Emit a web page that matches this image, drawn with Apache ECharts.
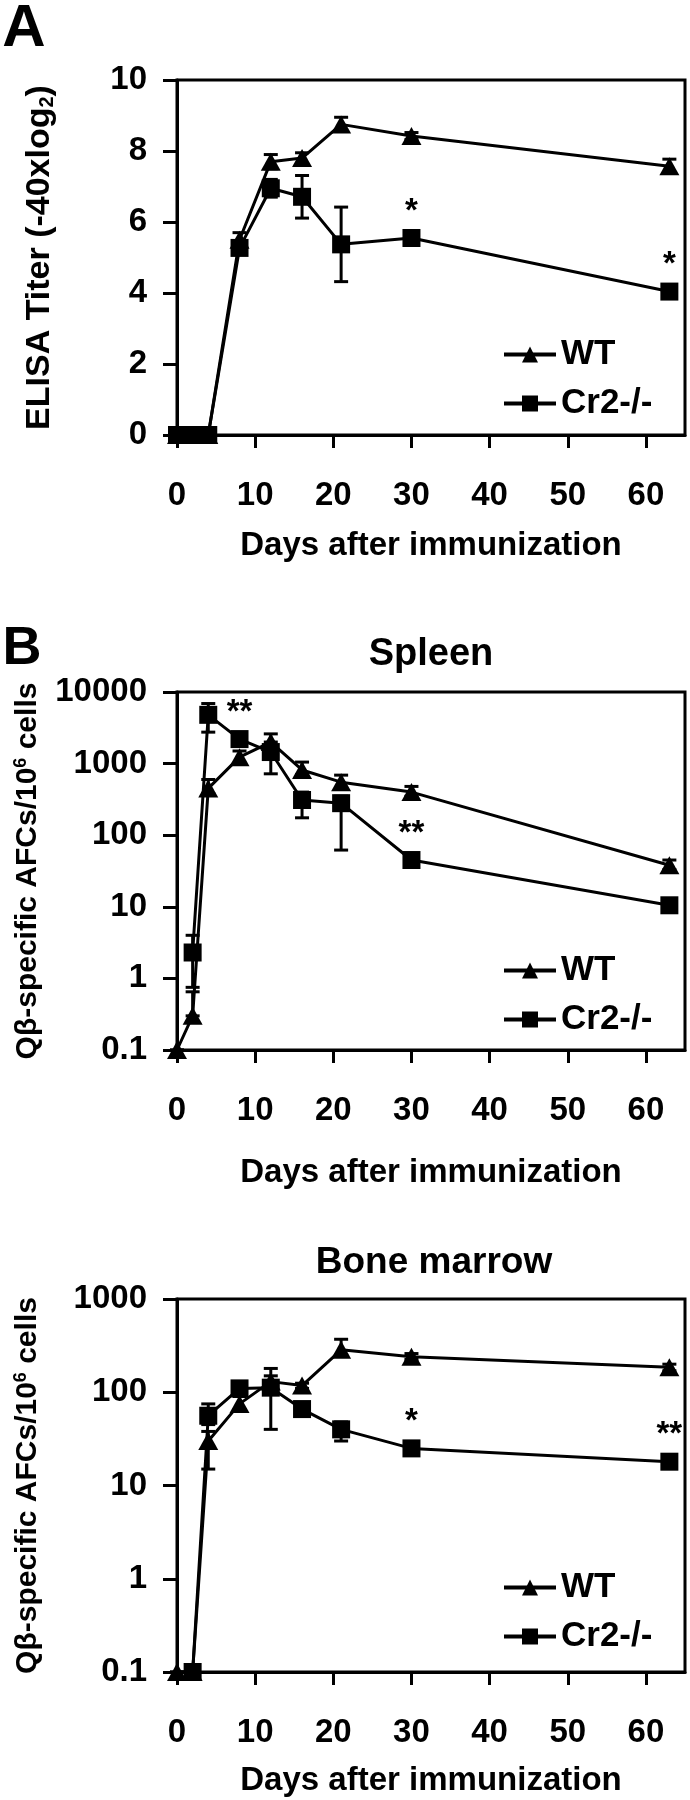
<!DOCTYPE html>
<html><head><meta charset="utf-8">
<script src="https://cdn.jsdelivr.net/npm/echarts@6/dist/echarts.min.js"></script>
<style>html,body{margin:0;padding:0;background:#fff}#c{width:690px;height:1800px}</style>
</head><body><div id="c"></div>
<script>
// ---------- data ----------
const X_TICKS = [0, 10, 20, 30, 40, 50, 60];

// Panel A: ELISA titer
const A_DAYS = [0, 2, 4, 8, 12, 16, 21, 30, 63];
const A_WT = [0, 0, 0, 5.5, 7.7, 7.8, 8.75, 8.42, 7.57];
const A_WT_ERR = [0, 0, 0, 0.2, 0.2, 0.15, 0.2, 0.1, 0.2];
const A_CR2 = [0, 0, 0, 5.27, 6.95, 6.71, 5.37, 5.55, 4.04];
const A_CR2_ERR = [0, 0, 0, 0.15, 0.25, 0.6, 1.05, 0.1, 0.1];
const A_STARS = [[30, 5.55, '*'], [63, 4.04, '*']];

// Panel B: Spleen
const SP_WT_DAYS = [0, 2, 4, 8, 12, 16, 21, 30, 63];
const SP_WT = [0.1, 0.3, 450, 1230, 2000, 815, 550, 400, 38];
const SP_WT_LO = [0.1, 0.3, 380, 1000, 1700, 700, 450, 350, 33];
const SP_WT_HI = [0.1, 0.65, 600, 1500, 2600, 1050, 690, 480, 45];
const SP_CR2_DAYS = [2, 4, 8, 12, 16, 21, 30, 63];
const SP_CR2 = [2.3, 4800, 2200, 1450, 310, 280, 45, 10.5];
const SP_CR2_LO = [0.75, 2750, 1900, 720, 175, 62, 40, 9.5];
const SP_CR2_HI = [4, 6900, 2600, 2000, 400, 350, 50, 11.5];
const SP_STARS = [[8, 2200, '**'], [30, 45, '**']];

// Panel B: Bone marrow
const BM_WT_DAYS = [0, 2, 4, 8, 12, 16, 21, 30, 63];
const BM_WT = [0.1, 0.1, 30, 75, 130, 118, 285, 240, 185];
const BM_WT_LO = [0.1, 0.1, 15, 65, 110, 110, 250, 225, 170];
const BM_WT_HI = [0.1, 0.1, 38, 90, 150, 125, 370, 260, 200];
const BM_CR2_DAYS = [2, 4, 8, 12, 16, 21, 30, 63];
const BM_CR2 = [0.1, 56, 110, 112, 66, 40, 25, 18];
const BM_CR2_LO = [0.1, 45, 95, 40, 60, 30, 22, 17];
const BM_CR2_HI = [0.1, 75, 125, 180, 72, 48, 28, 19];
const BM_STARS = [[30, 25, '*'], [63, 18, '**']];

// ---------- chart ----------
const FF = '"Liberation Sans", Arial, Helvetica, sans-serif';
const BLACK = '#000';
const chart = echarts.init(document.getElementById('c'), null, {renderer: 'canvas'});

const zip = (xs, ys) => xs.map((x, i) => [x, ys[i]]);

const grids = [
  {left: 177, top: 80, width: 508, height: 355},
  {left: 177, top: 692, width: 508, height: 358},
  {left: 177, top: 1299, width: 508, height: 373}
].map(g => Object.assign(g, {show: true, borderColor: BLACK, borderWidth: 3, backgroundColor: 'transparent', containLabel: false}));

const txt = (size) => ({fontFamily: FF, fontWeight: 'bold', fontSize: size, color: BLACK});

function xAxis(gi, nameGap, margin) {
  return {
    type: 'value', gridIndex: gi, min: 0, max: 65,
    name: 'Days after immunization', nameLocation: 'middle', nameGap: nameGap,
    nameTextStyle: txt(33),
    axisLine: {show: true, onZero: false, lineStyle: {color: BLACK, width: 3}},
    axisTick: {show: true, inside: false, length: 13, lineStyle: {color: BLACK, width: 3}, customValues: X_TICKS},
    axisLabel: Object.assign({customValues: X_TICKS, margin: margin}, txt(33)),
    splitLine: {show: false}
  };
}

function yCommon(gi) {
  return {
    gridIndex: gi,
    nameLocation: 'middle', nameRotate: 90,
    axisLine: {show: true, onZero: false, lineStyle: {color: BLACK, width: 3}},
    axisTick: {show: true, inside: false, length: 14, lineStyle: {color: BLACK, width: 3}},
    splitLine: {show: false},
    minorTick: {show: false}
  };
}

const logFmt = v => (v < 1 ? String(+v.toFixed(1)) : String(Math.round(v)));

const yAxes = [
  Object.assign(yCommon(0), {
    type: 'value', min: 0, max: 10, interval: 2,
    name: 'ELISA Titer (-40xlog{s|2})', nameGap: 120,
    nameTextStyle: Object.assign(txt(34), {rich: {s: {fontFamily: FF, fontWeight: 'bold', fontSize: 20, color: BLACK, verticalAlign: 'bottom', padding: [14, 0, 0, 0]}}}),
    axisLabel: Object.assign({margin: 30}, txt(33))
  }),
  Object.assign(yCommon(1), {
    type: 'log', logBase: 10, min: 0.1, max: 10000,
    name: 'Qβ-specific AFCs/10{p|6} cells', nameGap: 133,
    nameTextStyle: Object.assign(txt(30), {rich: {p: {fontFamily: FF, fontWeight: 'bold', fontSize: 18, color: BLACK, verticalAlign: 'top', padding: [0, 0, 14, 0]}}}),
    axisLabel: Object.assign({margin: 30, formatter: logFmt}, txt(33))
  }),
  Object.assign(yCommon(2), {
    type: 'log', logBase: 10, min: 0.1, max: 1000,
    name: 'Qβ-specific AFCs/10{p|6} cells', nameGap: 133,
    nameTextStyle: Object.assign(txt(30), {rich: {p: {fontFamily: FF, fontWeight: 'bold', fontSize: 18, color: BLACK, verticalAlign: 'top', padding: [0, 0, 14, 0]}}}),
    axisLabel: Object.assign({margin: 30, formatter: logFmt}, txt(33))
  })
];

const xAxes = [xAxis(0, 94, 44), xAxis(1, 106, 44), xAxis(2, 92, 44)];

function lineSeries(name, gi, days, vals) {
  const tri = name === 'WT';
  return {
    type: 'line', name: name, xAxisIndex: gi, yAxisIndex: gi,
    data: zip(days, vals),
    symbol: tri ? 'triangle' : 'rect',
    symbolSize: tri ? [20, 18] : [18, 18],
    showSymbol: true, clip: false, animation: false,
    lineStyle: {color: BLACK, width: 3},
    itemStyle: {color: BLACK, borderWidth: 0},
    z: tri ? 3 : 4
  };
}

function errSeries(gi, days, lo, hi) {
  return {
    type: 'custom', name: 'err', xAxisIndex: gi, yAxisIndex: gi, animation: false, clip: false,
    data: days.map((d, i) => [d, lo[i], hi[i]]),
    encode: {x: 0, y: [1, 2]},
    renderItem: function (params, api) {
      const p1 = api.coord([api.value(0), api.value(1)]);
      const p2 = api.coord([api.value(0), api.value(2)]);
      const w = 7;
      const st = {stroke: BLACK, lineWidth: 3};
      return {type: 'group', children: [
        {type: 'line', shape: {x1: p1[0], y1: p1[1], x2: p2[0], y2: p2[1]}, style: st},
        {type: 'line', shape: {x1: p1[0] - w, y1: p1[1], x2: p1[0] + w, y2: p1[1]}, style: st},
        {type: 'line', shape: {x1: p2[0] - w, y1: p2[1], x2: p2[0] + w, y2: p2[1]}, style: st}
      ]};
    },
    z: 2
  };
}

function symErr(vals, errs, sign) { return vals.map((v, i) => v + sign * errs[i]); }

function starSeries(gi, stars) {
  return {
    type: 'custom', name: 'stars', xAxisIndex: gi, yAxisIndex: gi, animation: false, clip: false,
    data: stars,
    encode: {x: 0, y: 1},
    renderItem: function (params, api) {
      const p = api.coord([api.value(0), api.value(1)]);
      return {type: 'text', x: p[0], y: p[1] - 10, style: {
        text: stars[params.dataIndex][2], fill: BLACK,
        font: 'bold 33px ' + FF, textAlign: 'center', textVerticalAlign: 'bottom', verticalAlign: 'bottom'
      }};
    },
    z: 5
  };
}

const series = [
  errSeries(0, A_DAYS, symErr(A_WT, A_WT_ERR, -1), symErr(A_WT, A_WT_ERR, 1)),
  errSeries(0, A_DAYS, symErr(A_CR2, A_CR2_ERR, -1), symErr(A_CR2, A_CR2_ERR, 1)),
  lineSeries('WT', 0, A_DAYS, A_WT),
  lineSeries('Cr2-/-', 0, A_DAYS, A_CR2),
  starSeries(0, A_STARS),

  errSeries(1, SP_WT_DAYS, SP_WT_LO, SP_WT_HI),
  errSeries(1, SP_CR2_DAYS, SP_CR2_LO, SP_CR2_HI),
  lineSeries('WT', 1, SP_WT_DAYS, SP_WT),
  lineSeries('Cr2-/-', 1, SP_CR2_DAYS, SP_CR2),
  starSeries(1, SP_STARS),

  errSeries(2, BM_WT_DAYS, BM_WT_LO, BM_WT_HI),
  errSeries(2, BM_CR2_DAYS, BM_CR2_LO, BM_CR2_HI),
  lineSeries('WT', 2, BM_WT_DAYS, BM_WT),
  lineSeries('Cr2-/-', 2, BM_CR2_DAYS, BM_CR2),
  starSeries(2, BM_STARS)
];

function legend(top) {
  return {
    data: ['WT', 'Cr2-/-'], orient: 'vertical', left: 497, top: top,
    itemWidth: 52, itemHeight: 20, itemGap: 14, selectedMode: false,
    lineStyle: {width: 4, color: BLACK},
    itemStyle: {color: BLACK},
    textStyle: Object.assign({padding: [0, 0, 0, 0]}, txt(35))
  };
}

const textEl = (x, y, s, size) => ({
  type: 'text', x: x, y: y,
  style: {text: s, font: 'bold ' + size + 'px ' + FF, fill: BLACK, textAlign: 'center', textVerticalAlign: 'middle', verticalAlign: 'middle'}
});

chart.setOption({
  backgroundColor: '#fff',
  animation: false,
  grid: grids,
  xAxis: xAxes,
  yAxis: yAxes,
  legend: [legend(332), legend(948), legend(1565)],
  series: series,
  graphic: [
    textEl(24, 29, 'A', 60),
    textEl(22, 649, 'B', 54),
    textEl(431, 655, 'Spleen', 38),
    textEl(434, 1263, 'Bone marrow', 37)
  ]
});
</script></body></html>
